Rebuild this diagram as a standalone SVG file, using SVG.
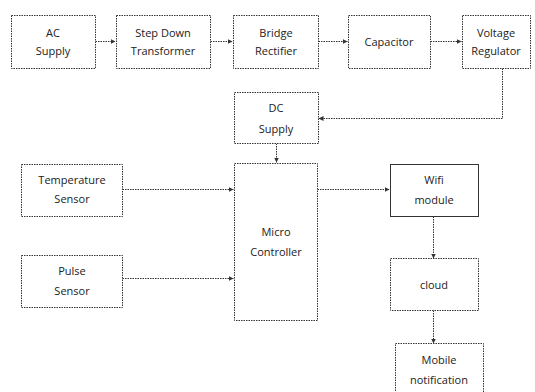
<svg xmlns="http://www.w3.org/2000/svg" width="535" height="392" viewBox="0 0 535 392">
<style>
.box{fill:#fff;stroke:#333;stroke-width:1;stroke-dasharray:1.5 1}
.solid{fill:#fff;stroke:#333;stroke-width:1}
.con{fill:none;stroke:#333;stroke-width:1;stroke-dasharray:1.5 1}
text{font-family:"Open Sans","Noto Sans",sans-serif;font-size:11px;fill:#222;text-anchor:middle;dominant-baseline:central}
</style>
<defs>
<marker id="ah" markerWidth="6" markerHeight="6" refX="5" refY="3" orient="auto" markerUnits="userSpaceOnUse">
<path d="M0,0.5 L5,3 L0,5.5 Z" fill="#333"/>
</marker>
</defs>
<rect width="535" height="392" fill="#fff"/>
<g id="connectors">
<path class="con" d="M95.5,41.5 H115.5" marker-end="url(#ah)"/>
<path class="con" d="M210.5,41.5 H232.5" marker-end="url(#ah)"/>
<path class="con" d="M318.5,41.5 H347.5" marker-end="url(#ah)"/>
<path class="con" d="M430.5,41.5 H461.5" marker-end="url(#ah)"/>
<path class="con" d="M502.5,68.5 V118.5 H318.5" marker-end="url(#ah)"/>
<path class="con" d="M276.5,143.5 V162.5" marker-end="url(#ah)"/>
<path class="con" d="M122.5,189.5 H233.5" marker-end="url(#ah)"/>
<path class="con" d="M122.5,278.5 H233.5" marker-end="url(#ah)"/>
<path class="con" d="M317.5,189.5 H389.5" marker-end="url(#ah)"/>
<path class="con" d="M433.5,216.5 V258.5" marker-end="url(#ah)"/>
<path class="con" d="M433.5,310.5 V343.5" marker-end="url(#ah)"/>
</g>
<g id="ac"><rect class="box" x="11.5" y="15.5" width="84" height="53"/><text x="53" y="32">AC</text><text x="53" y="50">Supply</text></g>
<g id="transformer"><rect class="box" x="116.5" y="15.5" width="94" height="53"/><text x="163" y="32">Step Down</text><text x="163" y="50">Transformer</text></g>
<g id="rectifier"><rect class="box" x="233.5" y="15.5" width="85" height="53"/><text x="276" y="32">Bridge</text><text x="276" y="50">Rectifier</text></g>
<g id="capacitor"><rect class="box" x="348.5" y="15.5" width="82" height="53"/><text x="389" y="41">Capacitor</text></g>
<g id="regulator"><rect class="box" x="462.5" y="15.5" width="68" height="53"/><text x="496" y="32">Voltage</text><text x="496" y="50">Regulator</text></g>
<g id="dc"><rect class="box" x="234.5" y="92.5" width="84" height="51"/><text x="276" y="107">DC</text><text x="276" y="128">Supply</text></g>
<g id="micro"><rect class="box" x="234.5" y="163.5" width="83" height="157"/><text x="276" y="231">Micro</text><text x="276" y="251">Controller</text></g>
<g id="temp"><rect class="box" x="21.5" y="164.5" width="101" height="52"/><text x="72" y="179">Temperature</text><text x="72" y="198">Sensor</text></g>
<g id="pulse"><rect class="box" x="21.5" y="255.5" width="101" height="52"/><text x="72" y="270">Pulse</text><text x="72" y="290">Sensor</text></g>
<g id="wifi"><rect class="solid" x="390.5" y="164.5" width="88" height="52"/><text x="434" y="179">Wifi</text><text x="434" y="199">module</text></g>
<g id="cloud"><rect class="box" x="390.5" y="258.5" width="88" height="52"/><text x="434" y="284">cloud</text></g>
<g id="mobile"><rect class="box" x="395.5" y="343.5" width="88" height="52"/><text x="439" y="359">Mobile</text><text x="439" y="379">notification</text></g>
</svg>
